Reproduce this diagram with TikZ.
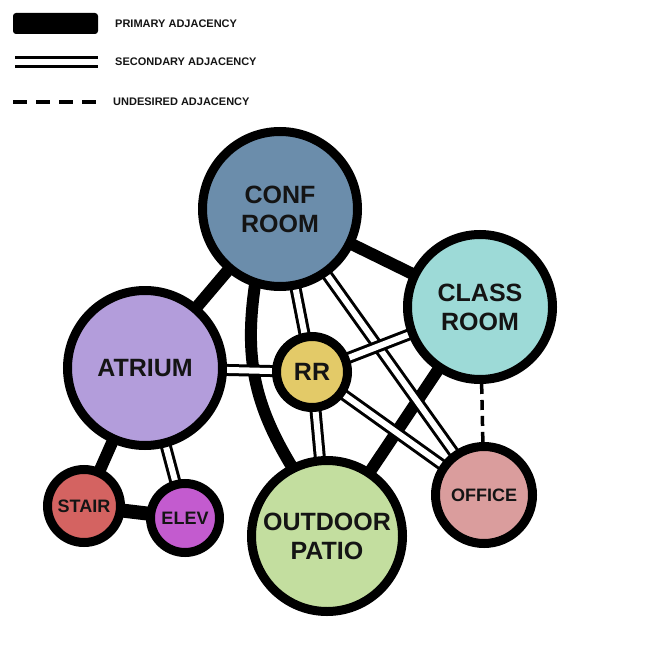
\documentclass[tikz,border=0pt]{standalone}
\usepackage{fontspec}
\setmainfont{Liberation Sans}
\usepackage{tikz}
\usetikzlibrary{positioning,backgrounds}
\definecolor{confblue}{HTML}{6B8DAB}
\definecolor{classteal}{HTML}{9DDAD7}
\definecolor{atriumlav}{HTML}{B39DDB}
\definecolor{rryellow}{HTML}{E3CA68}
\definecolor{patiogreen}{HTML}{C3DE9F}
\definecolor{officepink}{HTML}{DA9D9D}
\definecolor{stairred}{HTML}{D46361}
\definecolor{elevpurple}{HTML}{C35BCF}
\definecolor{inkdark}{HTML}{141414}
\tikzset{
  % --- rooms (bubbles) ---
  room/.style={circle, draw=black, line width=9pt, align=center, inner sep=0pt,
               text=inkdark, font=\bfseries\fontsize{25}{29}\selectfont},
  smallroom/.style={room, font=\bfseries\fontsize{18}{21}\selectfont},
  % --- adjacencies ---
  primary/.style={draw=black, line width=12pt, shorten <=-4pt, shorten >=-4pt},
  secondary/.style={draw=black, line width=3pt, double=white, double distance=6pt,
                    shorten <=-4pt, shorten >=-4pt},
  undesired/.style={draw=black, line width=3.5pt, dash pattern=on 10pt off 6pt},
  % --- key ---
  keytext/.style={anchor=west, inner sep=0pt, text=inkdark,
                  font=\bfseries\fontsize{11}{13}\selectfont},
}

\begin{document}
\begin{tikzpicture}[x=1pt, y=-1pt]
  \useasboundingbox (0,0) rectangle (660,660);

  % --- key ---
  \node[fill=black, rounded corners=3pt, minimum width=85pt, minimum height=21pt,
        inner sep=0pt] (keyprim) at (55.5,23.5) {};
  \node[keytext] (keyprimtxt) at (115,23.5) {PRIMARY ADJACENCY};
  \coordinate (keyseca) at (15,62);
  \coordinate (keysecb) at (98,62);
  \draw[draw=black, line width=3pt, double=white, double distance=6pt] (keyseca) -- (keysecb);
  \node[keytext] (keysectxt) at (115,62) {SECONDARY ADJACENCY};
  \coordinate (keyunda) at (13,102);
  \coordinate (keyundb) at (98,102);
  \draw[draw=black, line width=4.5pt, dash pattern=on 14pt off 9pt] (keyunda) -- (keyundb);
  \node[keytext] (keyundtxt) at (113,102) {UNDESIRED ADJACENCY};

  % --- rooms ---
  \node[room, fill=confblue,   minimum size=155pt] (conf)   at (280,209) {CONF\\ROOM};
  \node[room, fill=classteal,  minimum size=145pt] (class)  at (480,307) {CLASS\\ROOM};
  \node[room, fill=atriumlav,  minimum size=155pt] (atrium) at (145,368) {ATRIUM};
  \node[room, fill=rryellow,   minimum size=71pt]  (rr)     at (312,372) {RR};
  \node[room, fill=patiogreen, minimum size=151pt] (patio)  at (327,536) {OUTDOOR\\PATIO};
  \node[smallroom, fill=officepink, minimum size=97pt] (office) at (484,495) {OFFICE};
  \node[smallroom, fill=stairred,   minimum size=73pt] (stair)  at (84,506)  {STAIR};
  \node[smallroom, fill=elevpurple, minimum size=69pt] (elev)   at (185,518) {ELEV};

  % --- adjacencies, kept behind the bubbles ---
  \begin{scope}[on background layer]
    \draw[primary] (conf) -- (atrium);
    \draw[primary] (conf) -- (class);
    \draw[primary] (conf.252) to[bend right=20] (patio.117);
    \draw[primary] (class) -- (patio);
    \draw[primary] (atrium) -- (stair);
    \draw[primary, line width=14pt] (stair) -- (elev);
    \draw[secondary] (conf) -- (rr);
    \draw[secondary] (conf) -- (office);
    \draw[secondary] (class) -- (rr);
    \draw[secondary] (atrium) -- (rr);
    \draw[secondary] (rr) -- (patio);
    \draw[secondary] (rr) -- (office);
    \draw[secondary] (atrium) -- (elev);
    \draw[undesired] (class) -- (office);
  \end{scope}
\end{tikzpicture}
\end{document}
